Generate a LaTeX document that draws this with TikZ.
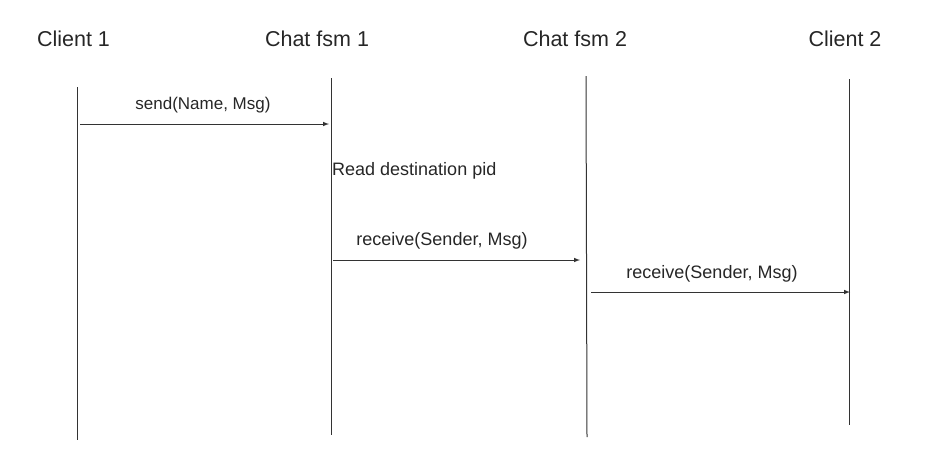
\documentclass[tikz,border=0pt]{standalone}
\usepackage{fontspec}
\setmainfont{Liberation Sans}
\tikzset{
  actor/.style={font=\fontsize{21.5}{24}\selectfont, text=black!85, anchor=base, inner sep=0pt},
  lbl/.style={font=\fontsize{18}{20}\selectfont, text=black!85, anchor=base, inner sep=0pt},
  life/.style={line width=1pt, black!80},
  msg/.style={->, line width=1pt, black!80}
}
\begin{document}
\begin{tikzpicture}[x=1pt, y=-1pt, >=latex]
    % 1. Khung hình
    \useasboundingbox (0,0) rectangle (934,475);

    % 2. Tên các thành phần
    \node[actor] (c1) at (73.5,46) {Client 1};
    \node[actor] (f1) at (317,46) {Chat fsm 1};
    \node[actor] (f2) at (575,46) {Chat fsm 2};
    \node[actor] (c2) at (845,46) {Client 2};

    % 3. Đường đời (lifeline)
    \coordinate (c1top) at (77,87);   \coordinate (c1bot) at (77,440);
    \coordinate (f1top) at (331,78);  \coordinate (f1bot) at (331,435);
    \coordinate (f2top) at (586,76);  \coordinate (f2bot) at (587,437);
    \coordinate (c2top) at (849,79);  \coordinate (c2bot) at (849,425);
    \draw[life] (c1top) -- (c1bot);
    \draw[life] (f1top) -- (f1bot);
    \draw[life] (f2top) -- (f2bot);
    \draw[life] (c2top) -- (c2bot);

    % 4. Các thông điệp
    \coordinate (m1s) at (80,124);  \coordinate (m1e) at (329,124);
    \draw[msg] (m1s) -- (m1e);
    \node[lbl, font=\fontsize{17}{19}\selectfont] (m1) at (203,109) {send(Name, Msg)};

    \node[lbl, anchor=base west] (rd) at (332,175) {Read destination pid};

    \coordinate (m2s) at (333,260); \coordinate (m2e) at (580,260);
    \draw[msg] (m2s) -- (m2e);
    \node[lbl] (m2) at (442,245) {receive(Sender, Msg)};

    \coordinate (m3s) at (591,292); \coordinate (m3e) at (850,292);
    \draw[msg] (m3s) -- (m3e);
    \node[lbl] (m3) at (712,278) {receive(Sender, Msg)};
\end{tikzpicture}
\end{document}
